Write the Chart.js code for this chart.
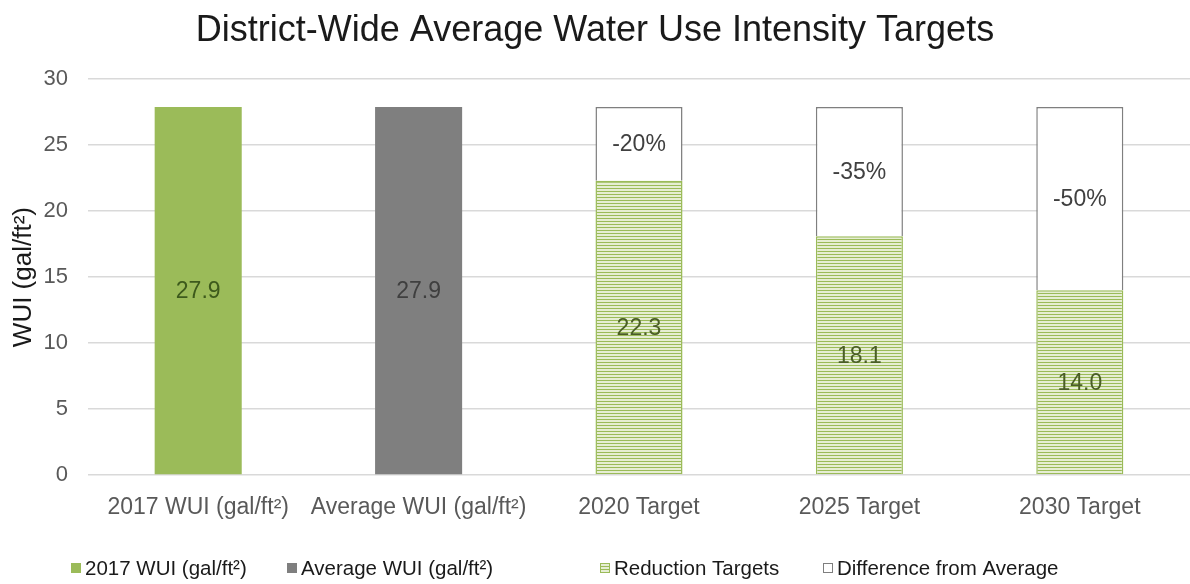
<!DOCTYPE html>
<html>
<head>
<meta charset="utf-8">
<script src="https://cdn.jsdelivr.net/npm/chart.js@4"></script>
<style>
  html, body { margin: 0; padding: 0; background: #ffffff; }
  #wrap { width: 1190px; height: 584px; }
</style>
</head>
<body>
<div id="wrap"><canvas id="c" width="1190" height="584"></canvas></div>
<script>
// Categories along the x axis
const categories = ['2017 WUI (gal/ft\u00B2)', 'Average WUI (gal/ft\u00B2)', '2020 Target', '2025 Target', '2030 Target'];

// Series values (gal/ft²)
const wui2017 = [27.9, null, null, null, null];
const wuiAverage = [null, 27.9, null, null, null];
const reductionTargets = [null, null, 22.3, 18.1, 14.0];
const differenceFromAverage = [null, null, 5.6, 9.8, 13.9];

// Text shown inside the "difference" segments
const differenceLabels = [null, null, '-20%', '-35%', '-50%'];

// Y axis tick values
const yTicks = [0, 5, 10, 15, 20, 25, 30];

const FONT = '"Liberation Sans", Arial, sans-serif';

// Horizontal-line hatch used for the reduction target bars
function makeHatch() {
  const p = document.createElement('canvas');
  p.width = 4; p.height = 3;
  const g = p.getContext('2d');
  g.fillStyle = '#e6eed3';
  g.fillRect(0, 0, 4, 3);
  g.fillStyle = '#9bbb59';
  g.fillRect(0, 2, 4, 1);
  return document.getElementById('c').getContext('2d').createPattern(p, 'repeat');
}
const hatch = makeHatch();

// Draws each bar's value (or percentage) in the middle of its segment
const segmentLabels = {
  id: 'segmentLabels',
  afterDatasetsDraw(chart) {
    const ctx = chart.ctx;
    ctx.save();
    ctx.font = '23px ' + FONT;
    ctx.textAlign = 'center';
    ctx.textBaseline = 'middle';
    chart.data.datasets.forEach((ds, di) => {
      const meta = chart.getDatasetMeta(di);
      meta.data.forEach((bar, i) => {
        const v = ds.data[i];
        if (v === null || v === undefined) return;
        const text = ds.valueText ? ds.valueText[i] : v.toFixed(1);
        ctx.fillStyle = ds.valueColor;
        ctx.fillText(text, bar.x, (bar.y + bar.base) / 2 + 1);
      });
    });
    ctx.restore();
  }
};

// Legend row under the chart, one entry per dataset
const legendRow = {
  id: 'legendRow',
  afterDraw(chart, args, opts) {
    const ctx = chart.ctx;
    ctx.save();
    ctx.font = opts.size + 'px ' + FONT;
    ctx.textBaseline = 'middle';
    ctx.textAlign = 'left';
    chart.data.datasets.forEach((ds, i) => {
      const x = opts.itemX[i];
      const y = opts.y;
      const s = opts.box;
      ctx.fillStyle = ds.backgroundColor;
      ctx.fillRect(x, y - s / 2, s, s);
      if (ds.borderWidth) {
        ctx.strokeStyle = ds.borderColor;
        ctx.lineWidth = 1;
        ctx.strokeRect(x + 0.5, y - s / 2 + 0.5, s - 1, s - 1);
      }
      ctx.fillStyle = opts.color;
      ctx.fillText(ds.label, x + s + 4, y + 1);
    });
    ctx.restore();
  }
};

new Chart(document.getElementById('c'), {
  type: 'bar',
  data: {
    labels: categories,
    datasets: [
      {
        label: '2017 WUI (gal/ft\u00B2)',
        data: wui2017,
        backgroundColor: '#9bbb59',
        borderWidth: 0,
        valueColor: '#3d5a1c'
      },
      {
        label: 'Average WUI (gal/ft\u00B2)',
        data: wuiAverage,
        backgroundColor: '#7f7f7f',
        borderWidth: 0,
        valueColor: '#3f3f3f'
      },
      {
        label: 'Reduction Targets',
        data: reductionTargets,
        backgroundColor: hatch,
        borderColor: '#9bbb59',
        borderWidth: 1.5,
        valueColor: '#4a5e26'
      },
      {
        label: 'Difference from Average',
        data: differenceFromAverage,
        backgroundColor: '#ffffff',
        borderColor: '#7f7f7f',
        borderWidth: 1.5,
        valueColor: '#404040',
        valueText: differenceLabels
      }
    ]
  },
  options: {
    responsive: false,
    animation: false,
    devicePixelRatio: 1,
    categoryPercentage: 1,
    barPercentage: 0.395,
    layout: { padding: { left: 0, right: 0, top: 0, bottom: 49 } },
    plugins: {
      title: {
        display: true,
        text: 'District-Wide Average Water Use Intensity Targets',
        color: '#1a1a1a',
        font: { family: FONT, size: 36, weight: 'normal' },
        padding: { top: 9, bottom: 27 }
      },
      legend: { display: false },
      legendRow: {
        itemX: [71, 287, 600, 823],
        y: 568,
        box: 10,
        size: 20.5,
        color: '#1a1a1a'
      },
      tooltip: { enabled: false }
    },
    scales: {
      x: {
        stacked: true,
        grid: { display: false },
        border: { display: false },
        ticks: {
          color: '#595959',
          font: { family: FONT, size: 23 },
          padding: 11,
          maxRotation: 0
        },
        afterFit(scale) { scale.height = 60; }
      },
      y: {
        stacked: true,
        min: 0,
        max: 30,
        afterBuildTicks(scale) { scale.ticks = yTicks.map(v => ({ value: v })); },
        grid: { color: '#d9d9d9', lineWidth: 1.5, drawTicks: false },
        border: { display: false },
        ticks: {
          color: '#595959',
          font: { family: FONT, size: 22 },
          padding: 20
        },
        title: {
          display: true,
          text: 'WUI (gal/ft\u00B2)',
          color: '#1a1a1a',
          font: { family: FONT, size: 26 },
          padding: { top: 8, bottom: 0 }
        },
        afterFit(scale) { scale.width = 88; }
      }
    }
  },
  plugins: [segmentLabels, legendRow]
});
</script>
</body>
</html>
